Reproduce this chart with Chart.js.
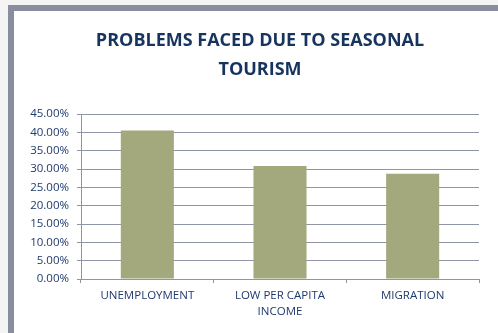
<!DOCTYPE html>
<html><head><meta charset="utf-8">
<script src="https://cdn.jsdelivr.net/npm/chart.js@4/dist/chart.umd.min.js"></script>
<style>html,body{margin:0;padding:0;background:#fff;}#wrap{width:498px;height:333px;position:relative;}</style>
</head><body><div id="wrap"><canvas id="c" width="498" height="333"></canvas></div>
<script>
const titleLines = ['PROBLEMS FACED DUE TO SEASONAL', 'TOURISM'];
const categories = [['UNEMPLOYMENT'], ['LOW PER CAPITA', 'INCOME'], ['MIGRATION']];
const values = [0.405, 0.308, 0.287];
const yMin = 0, yMax = 0.45, yStep = 0.05;

const frame = {
  id: 'frame',
  beforeDraw(chart) {
    const ctx = chart.ctx, w = chart.width, h = chart.height;
    ctx.save();
    ctx.fillStyle = '#f4f4f4'; ctx.fillRect(0, 0, w, h);
    ctx.fillStyle = '#ffffff'; ctx.fillRect(8, 5, w - 8, h - 5);
    ctx.fillStyle = '#898da0';
    ctx.fillRect(8, 5, 6, h - 5);
    ctx.fillRect(8, 5, w - 8, 6);
    ctx.restore();
  },
  afterDraw(chart) {
    const ctx = chart.ctx;
    ctx.save();
    ctx.fillStyle = '#17345f';
    ctx.font = 'bold 18px "Open Sans"';
    ctx.textAlign = 'center';
    ctx.textBaseline = 'middle';
    titleLines.forEach((t, i) => ctx.fillText(t, 260, 41 + i * 28.5));
    ctx.restore();
  }
};

new Chart(document.getElementById('c'), {
  type: 'bar',
  data: {
    labels: categories,
    datasets: [{
      data: values,
      backgroundColor: '#a3a97d',
      borderWidth: 0,
      categoryPercentage: 0.4,
      barPercentage: 1.0
    }]
  },
  options: {
    responsive: false,
    animation: false,
    devicePixelRatio: 1,
    layout: { padding: { left: 14, right: 19, top: 114, bottom: 0 } },
    plugins: {
      legend: { display: false },
      tooltip: { enabled: false },
      title: { display: false }
    },
    scales: {
      x: {
        grid: { display: true, drawOnChartArea: false, color: '#8f94a6', tickLength: 4, offset: true },
        border: { color: '#8f94a6' },
        ticks: { color: '#1f3a6e', font: { family: 'Open Sans', size: 11.5, lineHeight: '16px' }, padding: 5, maxRotation: 0 },
        afterFit(s) { s.height = 54; }
      },
      y: {
        min: yMin, max: yMax,
        grid: { color: '#8f94a6', tickLength: 4 },
        border: { color: '#8f94a6' },
        ticks: {
          stepSize: yStep,
          color: '#1f3a6e',
          font: { family: 'Open Sans', size: 11.5 },
          padding: 8,
          callback: v => (v * 100).toFixed(2) + '%'
        },
        afterFit(s) { s.width = 67; }
      }
    }
  },
  plugins: [frame]
});
</script>
</body></html>
